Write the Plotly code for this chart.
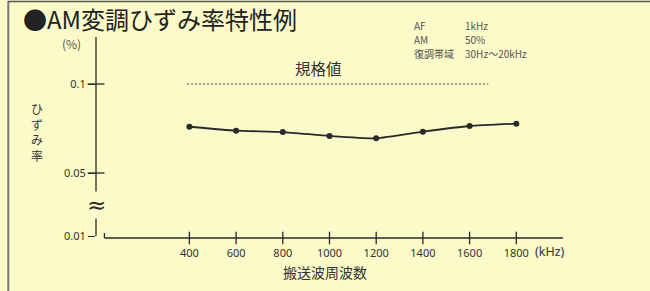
import plotly.graph_objects as go

# ---- data ----
freq_khz = [400, 600, 800, 1000, 1200, 1400, 1600, 1800]
distortion = [0.0760, 0.0738, 0.0730, 0.0708, 0.0695, 0.0732, 0.0764, 0.0777]
spec_x = [390, 1680]
spec_y = [0.1, 0.1]
x_ticks = [400, 600, 800, 1000, 1200, 1400, 1600, 1800]
y_tick_vals = [0.1, 0.05, 0.0146]
y_tick_text = ["0.1", "0.05", "0.01"]
note_keys = ["AF", "AM", "復調帯域"]
note_vals = ["1kHz", "50%", "30Hz～20kHz"]

BG = "#fafbc8"
INK = "#2a2a2a"
GRAY = "#4a4a4a"
JP = "Noto Sans CJK JP"

Y0, Y1 = 0.0135, 0.1264
PL, PT, PW, PH = 95.7, 37, 467, 201


def px(x):
    return (x - PL) / PW


def py(y):
    return (PT + PH - y) / PH


fig = go.Figure()

# spec dashed line
fig.add_trace(go.Scatter(x=spec_x, y=spec_y, mode="lines",
                         line=dict(color=GRAY, width=1, dash="2px,2px"),
                         hoverinfo="skip", showlegend=False))
# data
fig.add_trace(go.Scatter(x=freq_khz, y=distortion, mode="lines+markers",
                         line=dict(color=INK, width=1.8, shape="spline", smoothing=0.5),
                         marker=dict(color=INK, size=6),
                         showlegend=False))
# crossing tick marks on x axis
fig.add_trace(go.Scatter(x=x_ticks, y=[Y0] * len(x_ticks), mode="markers",
                         marker=dict(symbol="line-ns", size=9,
                                     line=dict(color=INK, width=1.3)),
                         cliponaxis=False, hoverinfo="skip", showlegend=False))
# crossing tick marks on y axis
fig.add_trace(go.Scatter(x=[0, 0], y=y_tick_vals[:2], mode="markers",
                         marker=dict(symbol="line-ew", size=12,
                                     line=dict(color=INK, width=1.3)),
                         cliponaxis=False, hoverinfo="skip", showlegend=False))

fig.update_xaxes(range=[0, 2000], showline=False, showgrid=False, zeroline=False,
                 tickvals=x_ticks, ticks="outside", ticklen=5,
                 tickcolor="rgba(0,0,0,0)",
                 tickfont=dict(family="Noto Sans", size=11, color="#333"))
fig.update_yaxes(range=[Y0, Y1], showline=False, showgrid=False, zeroline=False,
                 tickvals=y_tick_vals, ticktext=y_tick_text,
                 ticks="outside", ticklen=7, tickwidth=1.3, tickcolor=INK,
                 tickfont=dict(family="Noto Sans", size=11, color="#333"))

shapes = [
    # y axis line
    dict(type="line", xref="paper", yref="y", x0=0, x1=0, y0=0.0146, y1=Y1,
         line=dict(color=INK, width=1.3)),
    # x axis line
    dict(type="line", xref="x", yref="paper", x0=36, x1=2000, y0=0, y1=0,
         line=dict(color=INK, width=1.3)),
    dict(type="line", xref="x", yref="paper", x0=36, x1=36, y0=0, y1=0.025,
         line=dict(color=INK, width=1.3)),
    # frame borders
    dict(type="line", xref="paper", yref="paper", x0=px(8), x1=px(8), y0=py(295), y1=py(1),
         line=dict(color="#777", width=2)),
    dict(type="line", xref="paper", yref="paper", x0=px(8), x1=px(660), y0=py(1.5), y1=py(1.5),
         line=dict(color="#555", width=1.5)),
]

annotations = [
    dict(text="●AM変調ひずみ率特性例", xref="paper", yref="paper",
         x=px(21), y=py(19), xanchor="left", yanchor="middle",
         showarrow=False, font=dict(family=JP, size=24, color="#222")),
    dict(text="(%)", xref="paper", yref="paper", x=px(83), y=py(44),
         xanchor="right", yanchor="middle", showarrow=False,
         font=dict(family=JP, size=12, color="#555")),
    dict(text="ひ<br>ず<br>み<br>率", xref="paper", yref="paper",
         x=px(37), y=py(132), xanchor="center", yanchor="middle",
         showarrow=False, font=dict(family=JP, size=12, color="#333")),
    dict(text="規格値", xref="x", yref="paper", x=953, y=py(68),
         xanchor="center", yanchor="middle", showarrow=False,
         font=dict(family=JP, size=15.5, color="#333")),
    dict(text="搬送波周波数", xref="x", yref="paper", x=982, y=py(272),
         xanchor="center", yanchor="middle", showarrow=False,
         font=dict(family=JP, size=14, color="#333")),
    dict(text="(kHz)", xref="x", yref="paper", x=1870, y=py(251),
         xanchor="left", yanchor="middle", showarrow=False,
         font=dict(family="Noto Sans", size=12.5, color="#333")),
    dict(text="≈", xref="paper", yref="y", x=0, y=0.032,
         xanchor="center", yanchor="middle", showarrow=False, bgcolor=BG,
         borderpad=0, font=dict(family="DejaVu Sans", size=23, color=INK)),
]
row_y = [25, 39.5, 54]
for k, v, ry in zip(note_keys, note_vals, row_y):
    annotations.append(dict(text=k, xref="paper", yref="paper", x=px(413), y=py(ry),
                            xanchor="left", yanchor="middle", showarrow=False, borderpad=0,
                            font=dict(family=JP, size=10, color="#555")))
    annotations.append(dict(text=v, xref="paper", yref="paper", x=px(464), y=py(ry),
                            xanchor="left", yanchor="middle", showarrow=False, borderpad=0,
                            font=dict(family=JP, size=10, color="#555")))

fig.update_layout(width=650, height=291, autosize=False,
                  margin=dict(l=PL, r=650 - PL - PW, t=PT, b=291 - PT - PH, autoexpand=False),
                  paper_bgcolor=BG, plot_bgcolor=BG,
                  shapes=shapes, annotations=annotations, showlegend=False)

fig.write_html("out.html", config={"displayModeBar": False},
               post_script="document.body.style.margin='0';document.body.style.background='%s';" % BG)
